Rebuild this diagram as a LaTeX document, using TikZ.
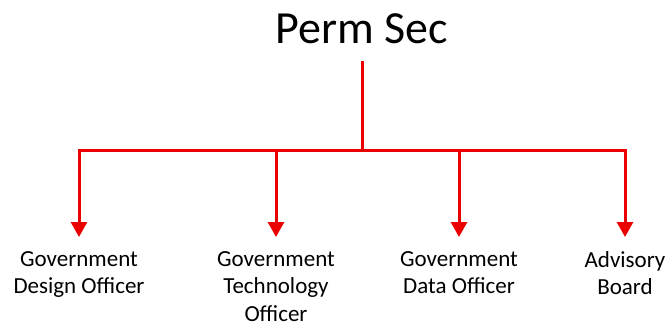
\documentclass[tikz,border=0pt]{standalone}
\usepackage{fontspec}
\setmainfont{Carlito}
\usepackage{tikz}
\usetikzlibrary{positioning}
\usetikzlibrary{arrows.meta}
\definecolor{orgred}{RGB}{234,0,0}

\begin{document}
\begin{tikzpicture}[x=1pt, y=-1pt,
	link/.style = {orgred, line width=3pt},
	down/.style = {link, -{Triangle[width=16pt,length=15pt]}, shorten >=14pt},
	post/.style = {align=center, inner sep=0pt, font=\fontsize{23}{27.5}\selectfont}]
\useasboundingbox (0,0) rectangle (667,322);

\node[inner sep=0pt, font=\fontsize{46}{52}\selectfont] (perm) at (362,29) {Perm Sec};

\coordinate (stem) at (362,61);
\coordinate (hub) at (362,150);
\coordinate (j1) at (79,150);
\coordinate (j2) at (276,150);
\coordinate (j3) at (459,150);
\coordinate (j4) at (625,150);

\node[post, anchor=north] (design) at (79,251) {Government\\Design Officer};
\node[post, anchor=north] (tech) at (276,251) {Government\\Technology\\Officer};
\node[post, anchor=north] (data) at (459,251) {Government\\Data Officer};
\node[post, anchor=north] (board) at (625,251) {Advisory\\Board};

\draw[link] (stem) -- (hub);
\draw[link, line cap=rect] (j1) -- (j4);
\draw[down] (j1) -- (design);
\draw[down] (j2) -- (tech);
\draw[down] (j3) -- (data);
\draw[down] (j4) -- (board);
\end{tikzpicture}
\end{document}
